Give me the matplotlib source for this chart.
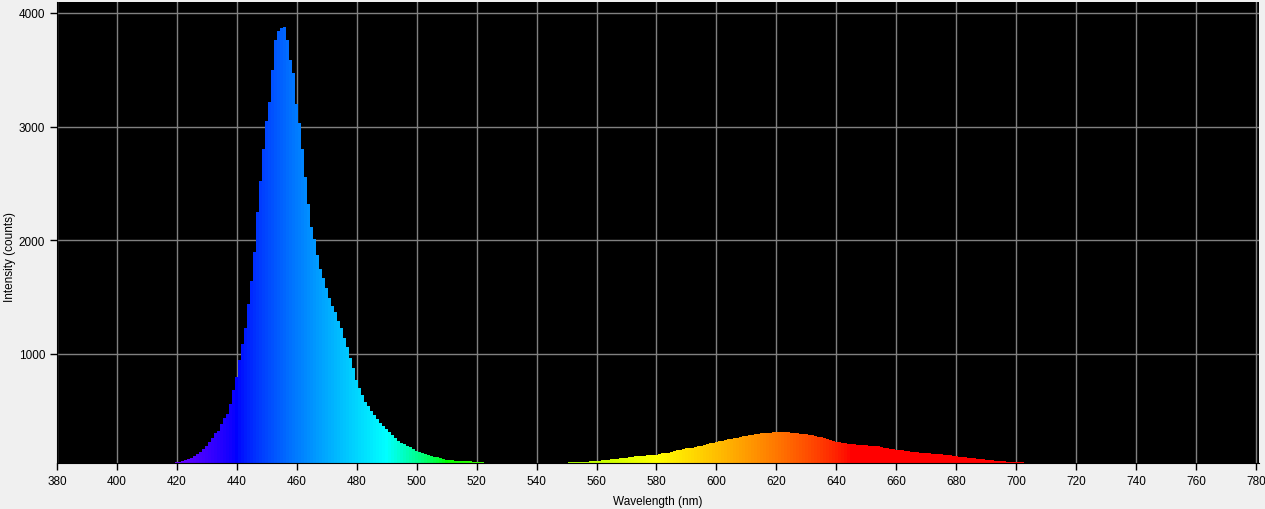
import numpy as np
import matplotlib.pyplot as plt

# counts per 1 nm bin
blue_start = 418
blue_counts = [
    40, 42, 45, 53, 60, 68, 76, 88, 102, 118,
    138, 162, 192, 226, 262, 300, 322, 380, 440, 470,
    560, 680, 800, 950, 1090, 1230, 1440, 1640, 1900, 2250,
    2520, 2800, 3050, 3220, 3500, 3760, 3840, 3870, 3875, 3760,
    3590, 3470, 3200, 3030, 2800, 2560, 2320, 2120, 2010, 1870,
    1750, 1670, 1580, 1490, 1420, 1370, 1290, 1230, 1140, 1060,
    960, 880, 770, 700, 640, 580, 540, 500, 460, 425,
    395, 365, 340, 315, 290, 260, 237, 220, 205, 192,
    178, 162, 148, 138, 128, 118, 112, 104, 97, 90,
    82, 76, 70, 66, 63, 60, 58, 57, 56, 55,
    54, 52, 52, 48, 51, 44, 42, 41,
]

red_start = 550
red_counts = [
    44, 45, 46, 47, 47, 48, 49, 52, 54, 56,
    58, 60, 64, 67, 70, 72, 76, 78, 80, 84,
    87, 90, 94, 98, 100, 103, 105, 106, 107, 110,
    112, 118, 124, 128, 132, 140, 146, 150, 156, 162,
    168, 172, 176, 180, 186, 192, 198, 206, 212, 218,
    225, 230, 236, 242, 248, 253, 258, 262, 270, 276,
    281, 286, 290, 294, 298, 300, 302, 305, 308, 310,
    312, 314, 313, 312, 310, 308, 305, 302, 299, 296,
    292, 288, 283, 278, 272, 265, 258, 250, 242, 234,
    226, 222, 218, 214, 210, 206, 203, 202, 199, 196,
    194, 192, 190, 189, 187, 182, 176, 172, 166, 160,
    157, 154, 150, 146, 142, 140, 137, 135, 132, 128,
    126, 124, 122, 120, 118, 115, 112, 109, 106, 103,
    100, 96, 93, 90, 86, 83, 80, 77, 74, 71,
    68, 65, 62, 60, 58, 56, 54, 52, 50, 48,
    47, 46, 45, 43, 41,
]

x_ticks = list(range(380, 781, 20))
y_ticks = [1000, 2000, 3000, 4000]


def wavelength_to_rgb(wl, gamma=0.8):
    # classic Bruton approximation
    if wl < 440:
        r, g, b = -(wl - 440) / (440 - 380), 0.0, 1.0
    elif wl < 490:
        r, g, b = 0.0, (wl - 440) / (490 - 440), 1.0
    elif wl < 510:
        r, g, b = 0.0, 1.0, -(wl - 510) / (510 - 490)
    elif wl < 580:
        r, g, b = (wl - 510) / (580 - 510), 1.0, 0.0
    elif wl < 645:
        r, g, b = 1.0, -(wl - 645) / (645 - 580), 0.0
    else:
        r, g, b = 1.0, 0.0, 0.0
    if wl < 420:
        f = 0.3 + 0.7 * (wl - 380) / (420 - 380)
    elif wl > 700:
        f = 0.3 + 0.7 * (780 - wl) / (780 - 700)
    else:
        f = 1.0
    return tuple((c * f) ** gamma for c in (r, g, b))


plt.rcParams['font.family'] = ['Liberation Sans', 'DejaVu Sans']

fig = plt.figure(figsize=(12.65, 5.10), dpi=100, facecolor='#f0f0f0')
ax = fig.add_axes([0.045, 0.0902, 0.9503, 0.9039])
ax.set_facecolor('black')

for start, counts in [(blue_start, blue_counts), (red_start, red_counts)]:
    wl = start + np.arange(len(counts))
    colors = [wavelength_to_rgb(w) for w in wl]
    ax.bar(wl, counts, width=1.0, align='center', color=colors,
           linewidth=0, antialiased=False, zorder=2)

ax.set_xlim(380, 781)
ax.set_ylim(40, 4096)
ax.set_xticks(x_ticks)
ax.set_yticks(y_ticks)
ax.grid(True, color='#808080', linewidth=1.0)
ax.set_axisbelow(True)

ax.tick_params(axis='both', direction='out', length=5, width=1,
               colors='black', labelsize=8.5)
for side in ['top', 'right']:
    ax.spines[side].set_visible(False)
ax.spines['bottom'].set_color('black')
ax.spines['left'].set_color('black')

ax.set_xlabel('Wavelength (nm)', fontsize=8.5, labelpad=6)
fig.text(10 / 1265, 1 - 257 / 510, 'Intensity (counts)', fontsize=8.5,
         rotation=90, ha='center', va='center')

fig.savefig('out.png', dpi=100, facecolor=fig.get_facecolor())
